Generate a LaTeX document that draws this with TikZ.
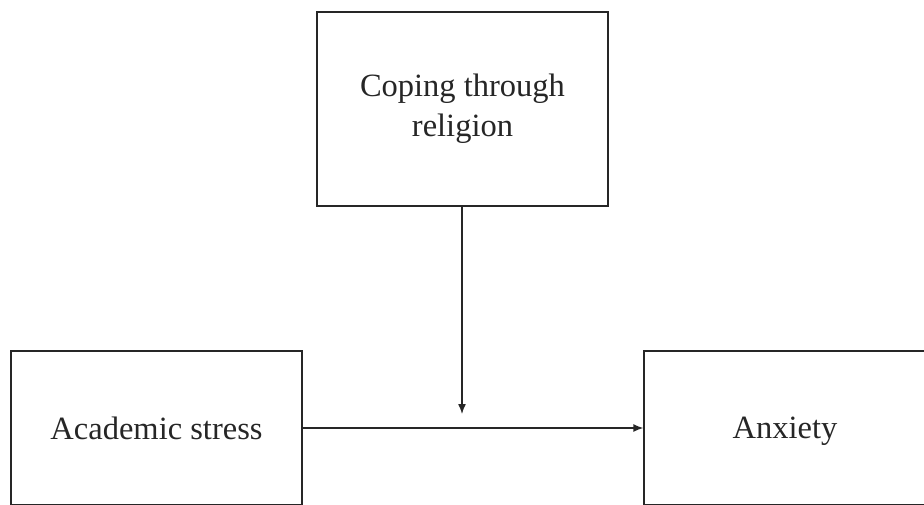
\documentclass[tikz,border=0pt]{standalone}
\usepackage{fontspec}
\setmainfont{Liberation Serif}
\usetikzlibrary{arrows.meta}

\begin{document}
\begin{tikzpicture}[x=1pt,y=-1pt,
    var/.style={draw=black!85,line width=1.3pt,inner sep=0pt,align=center,
                font=\fontsize{32.5}{40}\selectfont,text=black!85},
    path/.style={-{Latex[length=10pt,width=8pt]},line width=1.4pt,draw=black!85}]
    \useasboundingbox (0,0) rectangle (924,504);
    \node [var,minimum width=291pt,minimum height=194pt] (cope) at (462.5,109){Coping through\\religion};
    \node [var,minimum width=291pt,minimum height=154pt,text depth=0pt] (stress) at (156.5,428){Academic stress};
    \node [var,minimum width=282pt,minimum height=154pt,text depth=0pt] (anx) at (785,428){Anxiety};
    \coordinate (mod) at (462,414);
    \draw [path] (stress.east) -- (anx.west);
    \draw [path] (cope.south -| mod) -- (mod);
  \end{tikzpicture}
\end{document}
